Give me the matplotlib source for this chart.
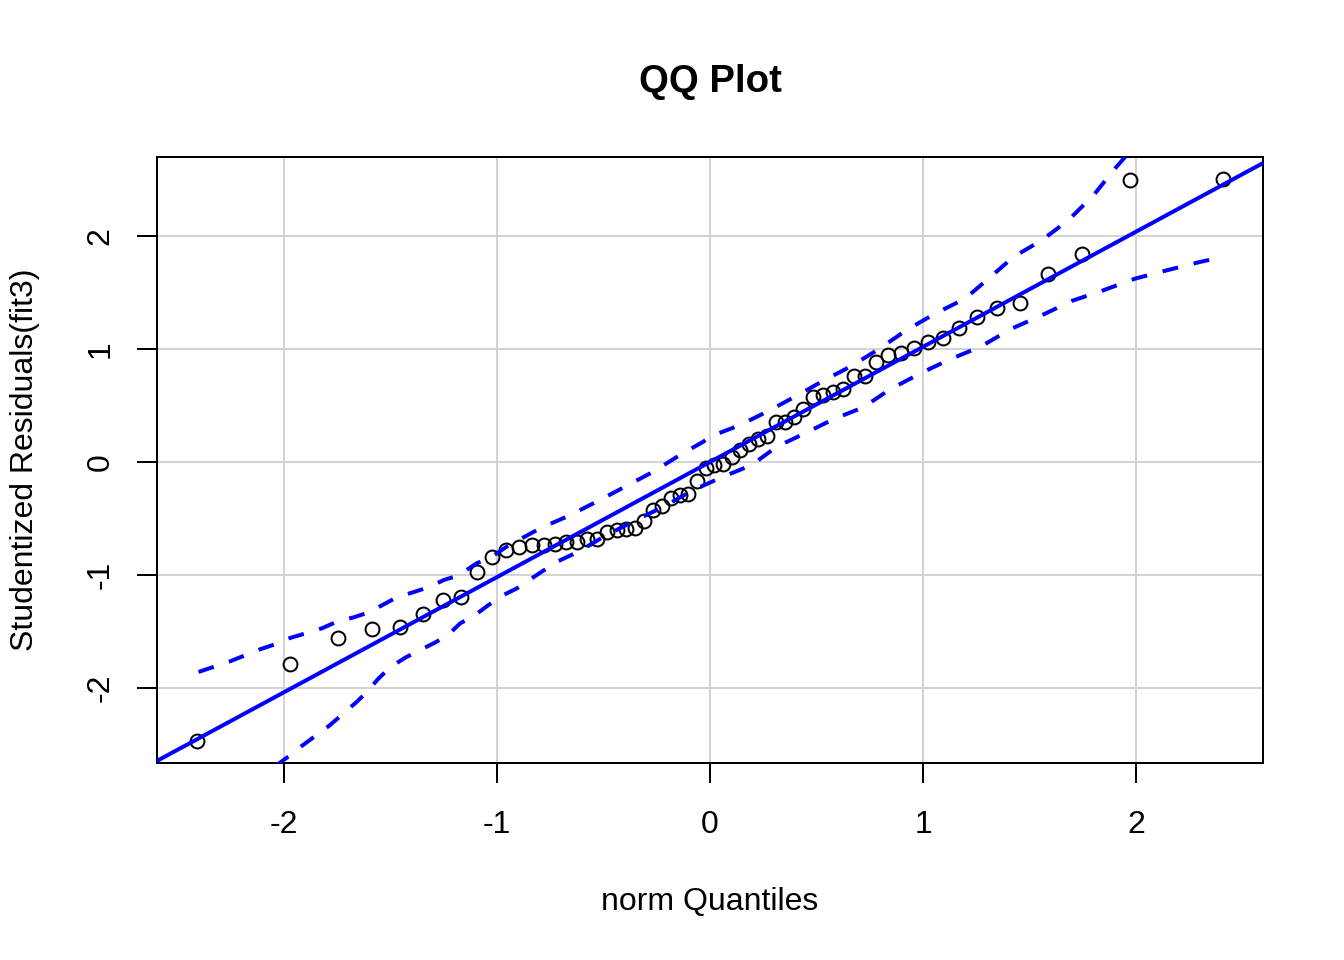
import numpy as np
import matplotlib
matplotlib.use("Agg")
import matplotlib.pyplot as plt
from statistics import NormalDist

plt.rcParams['font.family'] = ['Liberation Sans', 'DejaVu Sans']

# sorted studentized residuals of fit3
resid = [-2.47, -1.79, -1.555, -1.475, -1.457, -1.348, -1.224, -1.192, -0.971, -0.838,
         -0.779, -0.752, -0.732, -0.732, -0.723, -0.711, -0.711, -0.684, -0.684, -0.62,
         -0.602, -0.596, -0.587, -0.519, -0.425, -0.389, -0.316, -0.292, -0.286, -0.165,
         -0.056, -0.03, -0.018, 0.041, 0.106, 0.159, 0.200, 0.230, 0.357, 0.357,
         0.396, 0.466, 0.578, 0.597, 0.622, 0.646, 0.761, 0.761, 0.888, 0.947,
         0.967, 1.006, 1.06, 1.10, 1.19, 1.283, 1.366, 1.41, 1.667, 1.843,
         2.498, 2.507]

# reference line
line_a = 0.0
line_b = 1.019

# simulated 95% envelope
upper_z = [-2.401, -2.254, -2.117, -2.038, -1.972, -1.901, -1.822, -1.751, -1.671, -1.596,
           -1.531, -1.469, -1.385, -1.315, -1.249, -1.181, -1.095, -1.033, -0.955, -0.798,
           -0.665, -0.532, -0.399, -0.266, -0.141, -0.031, 0.0, 0.141, 0.274, 0.399,
           0.532, 0.665, 0.798, 0.923, 1.056, 1.197, 1.307, 1.424, 1.557, 1.682,
           1.800, 1.901, 1.972, 2.404]
upper_y = [-1.858, -1.765, -1.661, -1.611, -1.558, -1.518, -1.472, -1.413, -1.374, -1.327,
           -1.259, -1.197, -1.148, -1.104, -1.044, -1.004, -0.896, -0.850, -0.750, -0.587,
           -0.478, -0.351, -0.219, -0.086, 0.062, 0.180, 0.224, 0.327, 0.451, 0.578,
           0.719, 0.850, 1.006, 1.168, 1.312, 1.445, 1.622, 1.814, 1.962, 2.139,
           2.360, 2.596, 2.75, 3.6]
lower_z = [-2.401, -2.001, -1.970, -1.915, -1.853, -1.783, -1.720, -1.657, -1.610, -1.555,
           -1.501, -1.431, -1.360, -1.297, -1.235, -1.172, -1.109, -1.039, -0.969, -0.906,
           -0.836, -0.773, -0.751, -0.618, -0.485, -0.352, -0.219, -0.078, 0.062, 0.196,
           0.313, 0.446, 0.579, 0.720, 0.845, 0.994, 1.127, 1.268, 1.416, 1.557,
           1.698, 1.846, 1.995, 2.144, 2.300, 2.406]
lower_y = [-3.2, -2.637, -2.593, -2.511, -2.425, -2.327, -2.224, -2.121, -2.033, -1.914,
           -1.817, -1.732, -1.664, -1.604, -1.540, -1.427, -1.363, -1.265, -1.177, -1.118,
           -1.029, -0.950, -0.912, -0.794, -0.646, -0.519, -0.396, -0.248, -0.130, -0.027,
           0.135, 0.254, 0.378, 0.484, 0.643, 0.790, 0.909, 1.018, 1.180, 1.298,
           1.425, 1.519, 1.622, 1.696, 1.770, 1.814]

ticks = [-2, -1, 0, 1, 2]

n = len(resid)
z = [NormalDist().inv_cdf((i + 0.5) / n) for i in range(n)]

fig = plt.figure(figsize=(7, 5), dpi=192)
ax = fig.add_axes([157 / 1344, 1 - 763 / 960, (1263 - 157) / 1344, (763 - 157) / 960])

for t in ticks:
    ax.axvline(t, color='#d3d3d3', lw=0.75, zorder=0)
    ax.axhline(t, color='#d3d3d3', lw=0.75, zorder=0)

ax.plot(z, resid, 'o', mfc='none', mec='black', ms=5.2, mew=0.75, zorder=2)

xl = np.array([-2.7, 2.7])
ax.plot(xl, line_a + line_b * xl, color='blue', lw=1.5, zorder=3)
ax.plot(upper_z, upper_y, color='blue', lw=1.5, ls=(0, (4, 4)), zorder=3)
ax.plot(lower_z, lower_y, color='blue', lw=1.5, ls=(0, (4, 4)), zorder=3)

ax.set_xlim(-2.596, 2.596)
ax.set_ylim(-2.664, 2.699)
ax.set_xticks(ticks)
ax.set_yticks(ticks)
ax.set_xticklabels([str(t) for t in ticks])
ax.set_yticklabels([str(t) for t in ticks], rotation=90, va='center')
ax.tick_params(length=7.5, width=0.75, labelsize=12)
ax.tick_params(axis='x', pad=10)
ax.tick_params(axis='y', pad=8)
for s in ax.spines.values():
    s.set_linewidth(0.75)

fig.text(710 / 1344, 1 - 902 / 960, 'norm Quantiles', ha='center', va='center', fontsize=12)
fig.text(25 / 1344, 1 - 460 / 960, 'Studentized Residuals(fit3)', ha='center', va='center',
         rotation=90, fontsize=12)
fig.text(710 / 1344, 1 - 82 / 960, 'QQ Plot', ha='center', va='center',
         fontsize=14.4, fontweight='bold')

fig.savefig('out.png', dpi=192)
